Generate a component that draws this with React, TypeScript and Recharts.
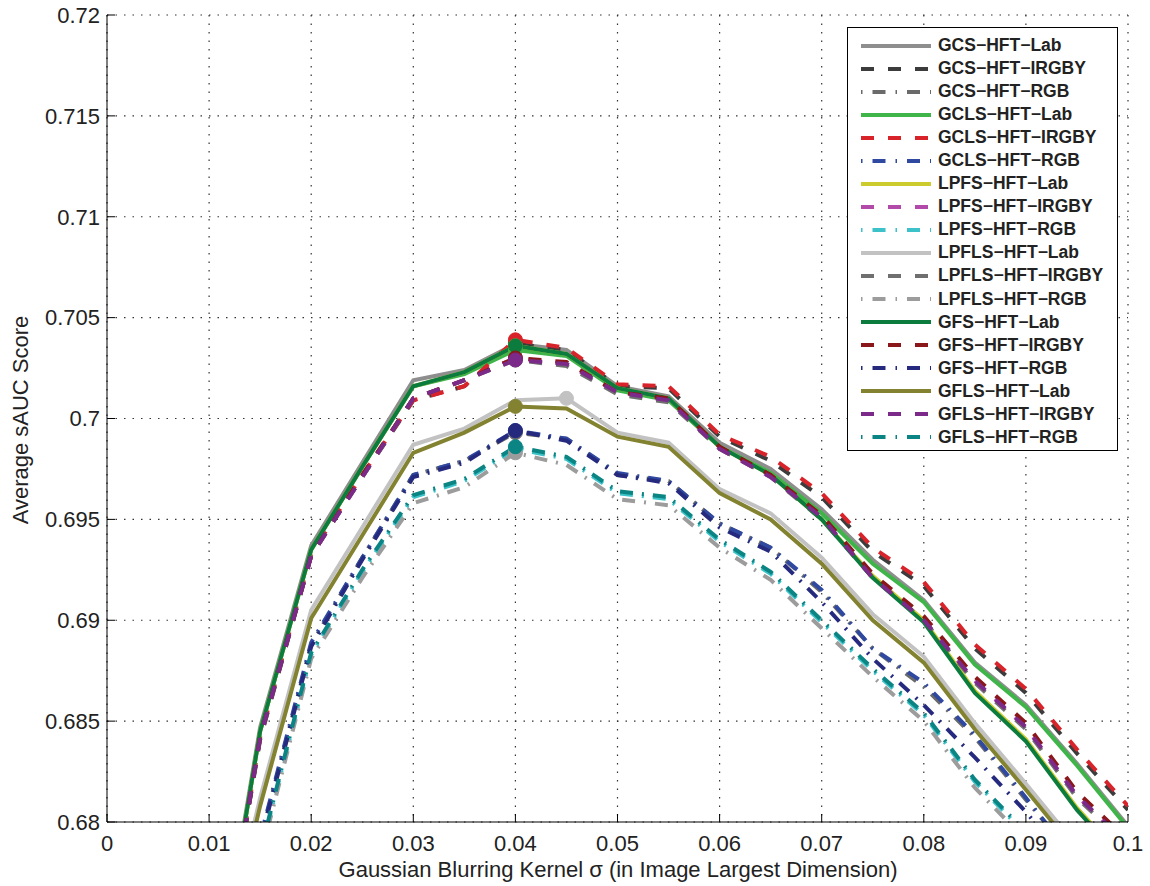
import React from 'react';
import { LineChart, Line, XAxis, YAxis, CartesianGrid, Legend } from 'recharts';

const SIGMA = [0.01, 0.015, 0.02, 0.025, 0.03, 0.035, 0.04, 0.045, 0.05, 0.055, 0.06, 0.065, 0.07, 0.075, 0.08, 0.085, 0.09, 0.095, 0.1];

const GCS_LAB = [0.6696, 0.6847, 0.6937, 0.6978, 0.7019, 0.7024, 0.7037, 0.7034, 0.7016, 0.7011, 0.6988, 0.6975, 0.6955, 0.6930, 0.6910, 0.6879, 0.6858, 0.6829, 0.6798];
const GCS_IRGBY = [0.6690, 0.6841, 0.6932, 0.6971, 0.7009, 0.7016, 0.7037, 0.7034, 0.7016, 0.7015, 0.6991, 0.6979, 0.6961, 0.6934, 0.6917, 0.6886, 0.6864, 0.6834, 0.6806];
const GCS_RGB = [0.6660, 0.6791, 0.6888, 0.6931, 0.6972, 0.6979, 0.6993, 0.6990, 0.6972, 0.6969, 0.6948, 0.6936, 0.6914, 0.6886, 0.6867, 0.6842, 0.6811, 0.6781, 0.6752];
const GCLS_LAB = [0.6694, 0.6845, 0.6935, 0.6976, 0.7016, 0.7022, 0.7034, 0.7031, 0.7014, 0.7009, 0.6986, 0.6973, 0.6953, 0.6928, 0.6909, 0.6878, 0.6857, 0.6828, 0.6797];
const GCLS_IRGBY = [0.6691, 0.6842, 0.6933, 0.6972, 0.7009, 0.7016, 0.7039, 0.7035, 0.7017, 0.7016, 0.6992, 0.6981, 0.6963, 0.6936, 0.6919, 0.6888, 0.6866, 0.6836, 0.6808];
const GCLS_RGB = [0.6661, 0.6792, 0.6889, 0.6931, 0.6972, 0.6979, 0.6994, 0.6990, 0.6973, 0.6969, 0.6948, 0.6936, 0.6915, 0.6886, 0.6869, 0.6843, 0.6812, 0.6780, 0.6751];
const LPFS_LAB = [0.6694, 0.6845, 0.6935, 0.6976, 0.7016, 0.7023, 0.7036, 0.7032, 0.7015, 0.7010, 0.6986, 0.6972, 0.6950, 0.6922, 0.6900, 0.6865, 0.6841, 0.6807, 0.6779];
const LPFS_IRGBY = [0.6690, 0.6842, 0.6932, 0.6971, 0.7010, 0.7019, 0.7030, 0.7027, 0.7013, 0.7009, 0.6985, 0.6971, 0.6951, 0.6921, 0.6900, 0.6870, 0.6847, 0.6813, 0.6789];
const LPFS_RGB = [0.6654, 0.6784, 0.6883, 0.6924, 0.6961, 0.6969, 0.6985, 0.6980, 0.6963, 0.6960, 0.6939, 0.6923, 0.6899, 0.6875, 0.6853, 0.6820, 0.6794, 0.6764, 0.6739];
const LPFLS_LAB = [0.6705, 0.6812, 0.6905, 0.6946, 0.6987, 0.6995, 0.7009, 0.7010, 0.6993, 0.6988, 0.6965, 0.6953, 0.6931, 0.6903, 0.6882, 0.6849, 0.6819, 0.6788, 0.6760];
const LPFLS_IRGBY = [0.6690, 0.6841, 0.6932, 0.6971, 0.7010, 0.7019, 0.7029, 0.7026, 0.7012, 0.7008, 0.6985, 0.6971, 0.6950, 0.6921, 0.6900, 0.6869, 0.6846, 0.6812, 0.6788];
const LPFLS_RGB = [0.6653, 0.6782, 0.6881, 0.6921, 0.6958, 0.6966, 0.6983, 0.6977, 0.6960, 0.6957, 0.6936, 0.6920, 0.6896, 0.6872, 0.6850, 0.6817, 0.6791, 0.6761, 0.6736];
const GFS_LAB = [0.6694, 0.6845, 0.6935, 0.6976, 0.7016, 0.7023, 0.7036, 0.7032, 0.7015, 0.7010, 0.6986, 0.6972, 0.6950, 0.6921, 0.6899, 0.6864, 0.6840, 0.6806, 0.6778];
const GFS_IRGBY = [0.6690, 0.6842, 0.6932, 0.6972, 0.7010, 0.7019, 0.7030, 0.7028, 0.7013, 0.7010, 0.6986, 0.6972, 0.6952, 0.6923, 0.6902, 0.6872, 0.6849, 0.6815, 0.6791];
const GFS_RGB = [0.6660, 0.6790, 0.6887, 0.6930, 0.6971, 0.6978, 0.6994, 0.6989, 0.6972, 0.6968, 0.6946, 0.6934, 0.6909, 0.6881, 0.6858, 0.6832, 0.6805, 0.6775, 0.6750];
const GFLS_LAB = [0.6700, 0.6808, 0.6901, 0.6942, 0.6983, 0.6993, 0.7006, 0.7005, 0.6991, 0.6986, 0.6963, 0.6950, 0.6928, 0.6900, 0.6879, 0.6846, 0.6816, 0.6785, 0.6757];
const GFLS_IRGBY = [0.6690, 0.6842, 0.6932, 0.6971, 0.7010, 0.7019, 0.7029, 0.7027, 0.7013, 0.7009, 0.6985, 0.6971, 0.6951, 0.6921, 0.6900, 0.6870, 0.6847, 0.6813, 0.6789];
const GFLS_RGB = [0.6655, 0.6785, 0.6884, 0.6925, 0.6962, 0.6970, 0.6986, 0.6981, 0.6964, 0.6961, 0.6940, 0.6924, 0.6900, 0.6876, 0.6854, 0.6821, 0.6795, 0.6765, 0.6740];

const X_TICKS = [0, 0.01, 0.02, 0.03, 0.04, 0.05, 0.06, 0.07, 0.08, 0.09, 0.1];
const Y_TICKS = [0.68, 0.685, 0.69, 0.695, 0.7, 0.705, 0.71, 0.715, 0.72];

const DASH = '13 14';
const DASHDOT = '13 9 2 9';

const SERIES = [
  { key: 'gcsLab', name: 'GCS−HFT−Lab', values: GCS_LAB, color: '#8e8e8e', dash: undefined },
  { key: 'gcsIrgby', name: 'GCS−HFT−IRGBY', values: GCS_IRGBY, color: '#3c3c3c', dash: DASH },
  { key: 'gcsRgb', name: 'GCS−HFT−RGB', values: GCS_RGB, color: '#6a6a6a', dash: DASHDOT },
  { key: 'gclsLab', name: 'GCLS−HFT−Lab', values: GCLS_LAB, color: '#3fb549', dash: undefined },
  { key: 'gclsIrgby', name: 'GCLS−HFT−IRGBY', values: GCLS_IRGBY, color: '#d8232a', dash: DASH },
  { key: 'gclsRgb', name: 'GCLS−HFT−RGB', values: GCLS_RGB, color: '#2f48a0', dash: DASHDOT },
  { key: 'lpfsLab', name: 'LPFS−HFT−Lab', values: LPFS_LAB, color: '#cbcb2e', dash: undefined },
  { key: 'lpfsIrgby', name: 'LPFS−HFT−IRGBY', values: LPFS_IRGBY, color: '#b24aaa', dash: DASH },
  { key: 'lpfsRgb', name: 'LPFS−HFT−RGB', values: LPFS_RGB, color: '#3cc2c8', dash: DASHDOT },
  { key: 'lpflsLab', name: 'LPFLS−HFT−Lab', values: LPFLS_LAB, color: '#c2c2c2', dash: undefined },
  { key: 'lpflsIrgby', name: 'LPFLS−HFT−IRGBY', values: LPFLS_IRGBY, color: '#6f6f6f', dash: DASH },
  { key: 'lpflsRgb', name: 'LPFLS−HFT−RGB', values: LPFLS_RGB, color: '#9c9c9c', dash: DASHDOT },
  { key: 'gfsLab', name: 'GFS−HFT−Lab', values: GFS_LAB, color: '#0c7c3e', dash: undefined },
  { key: 'gfsIrgby', name: 'GFS−HFT−IRGBY', values: GFS_IRGBY, color: '#8a1719', dash: DASH },
  { key: 'gfsRgb', name: 'GFS−HFT−RGB', values: GFS_RGB, color: '#252a7e', dash: DASHDOT },
  { key: 'gflsLab', name: 'GFLS−HFT−Lab', values: GFLS_LAB, color: '#828230', dash: undefined },
  { key: 'gflsIrgby', name: 'GFLS−HFT−IRGBY', values: GFLS_IRGBY, color: '#7c2a8a', dash: DASH },
  { key: 'gflsRgb', name: 'GFLS−HFT−RGB', values: GFLS_RGB, color: '#0b8484', dash: DASHDOT },
];

const data = SIGMA.map((s, i) => {
  const row: Record<string, number> = { sigma: s };
  SERIES.forEach(se => { row[se.key] = se.values[i]; });
  return row;
});

const FONT = '"Liberation Sans", Arial, Helvetica, sans-serif';
const fmt = (v: number) => String(parseFloat(v.toFixed(3)));

// marker only on the best score of each curve
const peakDot = (values: number[], color: string) => {
  const best = Math.max(...values);
  return (props: any) => {
    if (props.value !== best) return <g key={`d-${props.index}`} />;
    return <circle key={`d-${props.index}`} cx={props.cx} cy={props.cy} r={7} fill={color} stroke={color} />;
  };
};

function LegendBox() {
  return (
    <div style={{ width: 269, height: 422, border: '1px solid #000', background: '#fff', fontFamily: FONT, boxSizing: 'content-box' }}>
      <div style={{ paddingTop: 6 }}>
        {SERIES.map(se => (
          <div key={se.key} style={{ display: 'flex', alignItems: 'center', height: 23.05 }}>
            <svg width={90} height={12} style={{ flex: 'none' }}>
              <line x1={13} x2={83} y1={6} y2={6} stroke={se.color} strokeWidth={4} strokeDasharray={se.dash === DASHDOT ? '1.5 10 13 10' : se.dash} />
            </svg>
            <span style={{ fontWeight: 'bold', fontSize: 17.5, color: '#222', whiteSpace: 'nowrap' }}>{se.name}</span>
          </div>
        ))}
      </div>
    </div>
  );
}

export default function App() {
  return (
    <div style={{ position: 'absolute', left: 0, top: 0, width: 1150, height: 886, background: '#fff' }}>
      <LineChart width={1150} height={886} data={data} margin={{ top: 15, right: 22, bottom: 0, left: 0 }} style={{ fontFamily: FONT }}>
        <CartesianGrid stroke="#333" strokeWidth={1.2} strokeDasharray="1.5 7" />
        <XAxis
          dataKey="sigma"
          type="number"
          domain={[0, 0.1]}
          ticks={X_TICKS}
          interval={0}
          allowDataOverflow
          height={64}
          tickFormatter={fmt}
          tickSize={-8}
          tickMargin={21}
          stroke="#000"
          axisLine={{ stroke: '#000' }}
          tickLine={{ stroke: '#000' }}
          tick={{ fill: '#222', fontSize: 22, fontFamily: FONT }}
          label={{
            content: () => (
              <text x={618} y={877} textAnchor="middle" fill="#222" fontSize={22} fontFamily={FONT}>
                Gaussian Blurring Kernel σ (in Image Largest Dimension)
              </text>
            ),
          }}
        />
        <XAxis xAxisId="top" orientation="top" type="number" domain={[0, 0.1]} ticks={X_TICKS} interval={0} allowDataOverflow height={0} tick={false} tickSize={-8} axisLine={{ stroke: '#000' }} tickLine={{ stroke: '#000' }} />
        <YAxis
          type="number"
          domain={[0.68, 0.72]}
          ticks={Y_TICKS}
          interval={0}
          allowDataOverflow
          width={107}
          tickFormatter={fmt}
          tickSize={-8}
          tickMargin={15}
          axisLine={{ stroke: '#000' }}
          tickLine={{ stroke: '#000' }}
          tick={{ fill: '#222', fontSize: 22, fontFamily: FONT }}
          label={{
            content: () => (
              <text x={28} y={420} transform="rotate(-90 28 420)" textAnchor="middle" fill="#222" fontSize={22} fontFamily={FONT}>
                Average sAUC Score
              </text>
            ),
          }}
        />
        <YAxis yAxisId="right" orientation="right" type="number" domain={[0.68, 0.72]} ticks={Y_TICKS} interval={0} allowDataOverflow width={0} tick={false} tickSize={-8} axisLine={{ stroke: '#000' }} tickLine={{ stroke: '#000' }} />
        <Legend
          layout="vertical"
          align="center"
          verticalAlign="middle"
          content={() => <LegendBox />}
          wrapperStyle={{ left: 847, top: 27, width: 271, height: 424 }}
        />
        {SERIES.map(se => (
          <Line
            key={se.key}
            dataKey={se.key}
            name={se.name}
            type="linear"
            stroke={se.color}
            strokeWidth={4}
            strokeDasharray={se.dash}
            dot={peakDot(se.values, se.color)}
            activeDot={false}
            isAnimationActive={false}
          />
        ))}
      </LineChart>
    </div>
  );
}
